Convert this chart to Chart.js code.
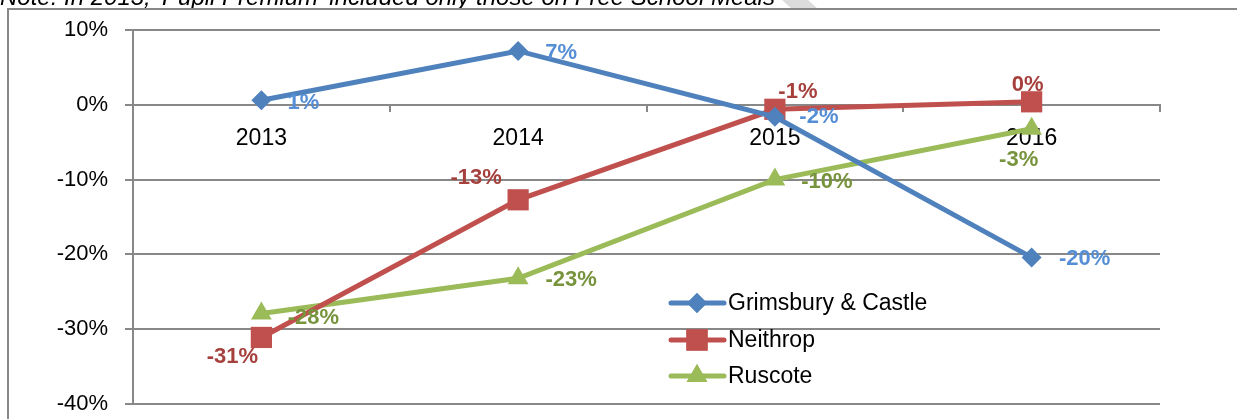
<!DOCTYPE html>
<html>
<head>
<meta charset="utf-8">
<script src="https://cdn.jsdelivr.net/npm/chart.js"></script>
<style>
  html, body { margin: 0; padding: 0; background: #fff; }
  #wrap { position: relative; width: 1237px; height: 419px; }
</style>
</head>
<body>
<div id="wrap"><canvas id="pupilChart" width="1237" height="419"></canvas></div>
<script>
const years = ['2013', '2014', '2015', '2016'];
const grimsbury = [0.6, 7.2, -1.6, -20.4];
const neithrop = [-31.1, -12.7, -0.6, 0.4];
const ruscote = [-27.9, -23.2, -10.0, -3.2];
const yTicks = [10, 0, -10, -20, -30, -40];
const seriesNames = ['Grimsbury & Castle', 'Neithrop', 'Ruscote'];
const noteText = "Note: In 2013, 'Pupil Premium' included only those on Free School Meals";

const FONT = "'Liberation Sans', Arial, sans-serif";

// where each value label sits relative to its point (dx, dy)
const labelOffsets = [
    [[42, 3], [43, 2], [44, 0], [53, 2]],
    [[-29, 20], [-42, -22], [23, -17], [-4, -17]],
    [[52, 4], [53, 2], [52, 2], [-13, 31]]
];
const labelColors = ['#558ed5', '#a5403d', '#77933c'];

const valueLabels = {
    id: 'valueLabels',
    afterDatasetsDraw(chart) {
        const ctx = chart.ctx;
        ctx.save();
        ctx.font = 'bold 22px ' + FONT;
        ctx.textAlign = 'center';
        ctx.textBaseline = 'middle';
        chart.data.datasets.forEach((ds, i) => {
            const meta = chart.getDatasetMeta(i);
            ctx.fillStyle = labelColors[i];
            meta.data.forEach((pt, j) => {
                const off = labelOffsets[i][j];
                ctx.fillText(Math.round(ds.data[j]) + '%', pt.x + off[0], pt.y + off[1]);
            });
        });
        ctx.restore();
    }
};

const frame = {
    id: 'frame',
    beforeDraw(chart) {
        const ctx = chart.ctx;
        ctx.save();
        // light watermark corner
        ctx.fillStyle = '#dcdcdc';
        ctx.beginPath();
        ctx.moveTo(782, 0); ctx.lineTo(808, 0); ctx.lineTo(818, 9); ctx.lineTo(792, 9);
        ctx.closePath();
        ctx.fill();
        ctx.fillStyle = '#000';
        ctx.font = 'italic 24px ' + FONT;
        ctx.textBaseline = 'alphabetic';
        ctx.textAlign = 'left';
        ctx.fillText(noteText, 0, 5);
        ctx.strokeStyle = '#888';
        ctx.lineWidth = 2;
        ctx.beginPath();
        ctx.moveTo(8, 419); ctx.lineTo(8, 9); ctx.lineTo(1237, 9);
        ctx.stroke();
        ctx.restore();
    },
    afterDraw(chart) {
        // legend
        const ctx = chart.ctx;
        ctx.save();
        ctx.font = '23px ' + FONT;
        ctx.textBaseline = 'middle';
        ctx.textAlign = 'left';
        const rows = [303, 340, 376];
        chart.data.datasets.forEach((ds, i) => {
            const y = rows[i];
            ctx.strokeStyle = ds.borderColor;
            ctx.lineWidth = 5;
            ctx.lineCap = 'round';
            ctx.beginPath();
            ctx.moveTo(671, y); ctx.lineTo(724, y);
            ctx.stroke();
            ctx.fillStyle = ds.borderColor;
            Chart.helpers.drawPoint(ctx, {
                pointStyle: ds.pointStyle, radius: ds.pointRadius, rotation: 0, borderWidth: 0
            }, 697, y);
            ctx.fill();
            ctx.fillStyle = '#000';
            ctx.fillText(ds.label, 728, y + 1);
        });
        ctx.restore();
    }
};

function line(label, data, color, style, r) {
    return {
        label: label,
        data: data,
        borderColor: color,
        backgroundColor: color,
        borderWidth: 5,
        pointStyle: style,
        pointRadius: r,
        pointHoverRadius: r,
        pointBorderWidth: 0,
        tension: 0
    };
}

new Chart(document.getElementById('pupilChart'), {
    type: 'line',
    data: {
        labels: years,
        datasets: [
            line(seriesNames[0], grimsbury, '#4f81bd', 'rectRot', 10),
            line(seriesNames[1], neithrop, '#c0504d', 'rect', 15),
            line(seriesNames[2], ruscote, '#9bbb59', 'triangle', 12)
        ]
    },
    options: {
        responsive: false,
        animation: false,
        layout: { padding: { top: 30, bottom: 14, right: 77, left: 0 } },
        plugins: {
            legend: { display: false },
            tooltip: { enabled: false }
        },
        scales: {
            x: {
                position: { y: 0 },
                offset: true,
                afterFit(axis) { axis.height = 0; },
                grid: { offset: true, drawOnChartArea: false, drawTicks: true, tickLength: 6, color: '#888', lineWidth: 2 },
                border: { color: '#888', width: 2 },
                ticks: { color: '#000', font: { family: FONT, size: 23 }, padding: 14, maxRotation: 0 }
            },
            y: {
                min: -40,
                max: 10,
                afterBuildTicks(axis) { axis.ticks = yTicks.map(v => ({ value: v })); },
                afterFit(axis) {
                    axis.width = 133;
                    axis.paddingTop = 0;
                    axis.paddingBottom = 0;
                },
                grid: { color: '#888', lineWidth: 2, tickLength: 8 },
                border: { color: '#888', width: 2 },
                ticks: {
                    color: '#000',
                    font: { family: FONT, size: 22 },
                    padding: 17,
                    callback: v => v + '%'
                }
            }
        }
    },
    plugins: [frame, valueLabels]
});
</script>
</body>
</html>
